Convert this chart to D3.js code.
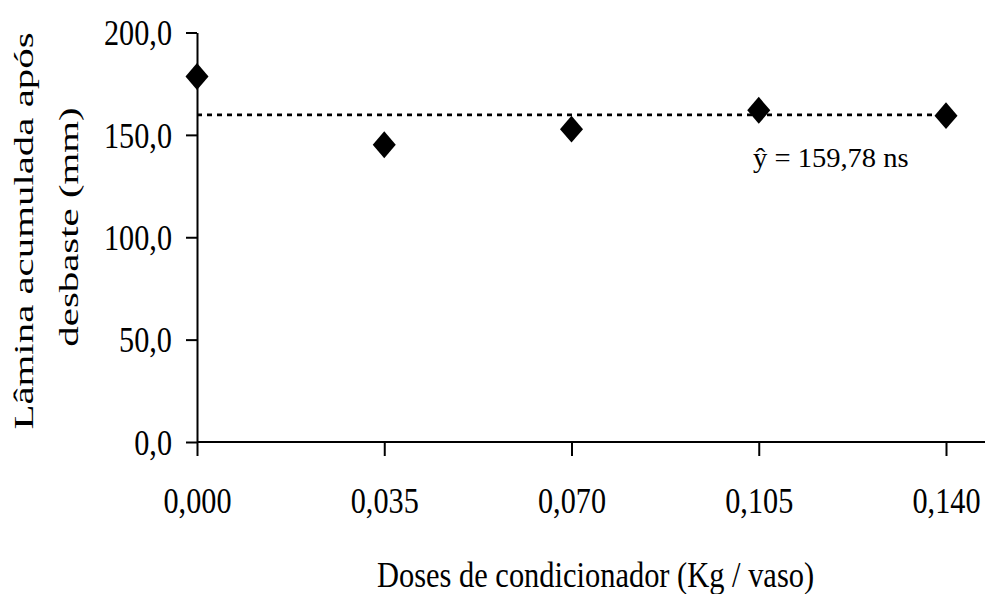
<!DOCTYPE html>
<html>
<head>
<meta charset="utf-8">
<script src="https://cdn.jsdelivr.net/npm/d3@7"></script>
<style>
  body { margin: 0; background: #fff; }
  text { font-family: "Liberation Serif", "Times New Roman", serif; fill: #000; }
</style>
</head>
<body>
<div id="chart"></div>
<script>
// data
var doses = [0, 0.035, 0.070, 0.105, 0.140];
var lamina = [178.5, 145.2, 152.8, 162.0, 159.4];
var xTickLabels = ["0,000", "0,035", "0,070", "0,105", "0,140"];
var yTicks = [0, 50, 100, 150, 200];
var yMean = 159.78;
var eqLabel = "ŷ = 159,78 ns";

var W = 985, H = 594;
var plotLeft = 197, plotRight = 946, plotTop = 32.5, plotBottom = 442, axisEnd = 985;
var sx = 0.84; // text looks squeezed horizontally in the original

var svg = d3.select("#chart")
  .append("svg")
  .attr("width", W)
  .attr("height", H);

var x = d3.scaleLinear()
  .domain([0, 0.14])
  .range([plotLeft, plotRight]);

var y = d3.scaleLinear()
  .domain([0, 200])
  .range([plotBottom, plotTop]);

// y axis
var gy = svg.append("g")
  .attr("transform", "translate(" + plotLeft + ",0)")
  .call(d3.axisLeft(y)
    .tickValues(yTicks)
    .tickSize(11)
    .tickSizeOuter(0)
    .tickFormat(function(d) { return d.toFixed(1).replace(".", ","); }));

gy.selectAll("path, line").attr("stroke", "#000").attr("stroke-width", 2);
gy.selectAll("text")
  .attr("x", 0)
  .attr("dy", "0.34em")
  .attr("transform", "translate(-25,0) scale(" + sx + ",1)")
  .style("font-size", "36px");

// x axis
var gx = svg.append("g")
  .attr("transform", "translate(0," + plotBottom + ")")
  .call(d3.axisBottom(x)
    .tickValues(doses)
    .tickSize(14)
    .tickSizeOuter(0)
    .tickFormat(function(d, i) { return xTickLabels[i]; }));

gx.select(".domain").attr("d", "M" + plotLeft + ",0H" + axisEnd);
gx.selectAll("path, line").attr("stroke", "#000").attr("stroke-width", 2);
gx.selectAll("text")
  .attr("y", 71)
  .attr("dy", 0)
  .attr("transform", "scale(" + sx + ",1)")
  .style("font-size", "36px");

// mean line
svg.append("line")
  .attr("x1", x(0))
  .attr("x2", x(0.14))
  .attr("y1", y(yMean))
  .attr("y2", y(yMean))
  .attr("stroke", "#000")
  .attr("stroke-width", 2.6)
  .attr("stroke-dasharray", "5,5");

svg.append("text")
  .attr("transform", "translate(753,167) scale(1.02,1)")
  .style("font-size", "28px")
  .text(eqLabel);

// points: rhombus a bit taller than wide, like excel's diamond marker
var rhombus = {
  draw: function(context, size) {
    var ratio = 1.17;
    var w = Math.sqrt(size / (2 * ratio)), h = w * ratio;
    context.moveTo(0, -h);
    context.lineTo(w, 0);
    context.lineTo(0, h);
    context.lineTo(-w, 0);
    context.closePath();
  }
};
var marker = d3.symbol().type(rhombus).size(310);
svg.append("g")
  .selectAll("path")
  .data(doses)
  .enter()
  .append("path")
  .attr("d", marker)
  .attr("transform", function(d, i) {
    return "translate(" + x(d) + "," + y(lamina[i]) + ")";
  })
  .attr("fill", "#000");

// axis titles
svg.append("text")
  .attr("transform", "translate(377,587) scale(0.87,1)")
  .style("font-size", "35px")
  .text("Doses de condicionador (Kg / vaso)");

svg.append("text")
  .attr("transform", "translate(33,231) rotate(-90) scale(1.46,1)")
  .attr("text-anchor", "middle")
  .style("font-size", "28px")
  .text("Lâmina acumulada após");

svg.append("text")
  .attr("transform", "translate(78,227) rotate(-90) scale(1.46,1)")
  .attr("text-anchor", "middle")
  .style("font-size", "28px")
  .text("desbaste (mm)");
</script>
</body>
</html>
